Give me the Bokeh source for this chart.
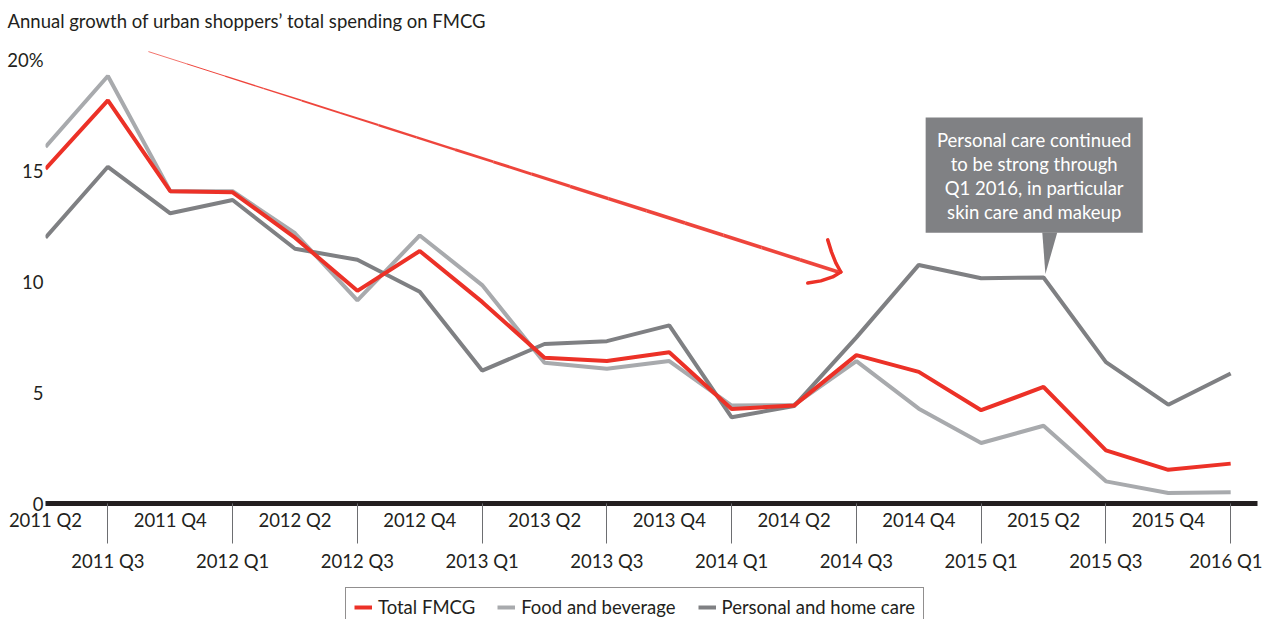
from bokeh.plotting import figure
from bokeh.layouts import column
from bokeh.models import Range1d, LinearAxis, FixedTicker, Legend, LegendItem
from bokeh.embed import file_html
from bokeh.resources import INLINE
from bokeh.core.properties import value

quarters = ["2011 Q2", "2011 Q3", "2011 Q4", "2012 Q1", "2012 Q2", "2012 Q3", "2012 Q4",
            "2013 Q1", "2013 Q2", "2013 Q3", "2013 Q4", "2014 Q1", "2014 Q2", "2014 Q3",
            "2014 Q4", "2015 Q1", "2015 Q2", "2015 Q3", "2015 Q4", "2016 Q1"]
total_fmcg = [15.1, 18.2, 14.1, 14.05, 12.0, 9.6, 11.4, 9.1, 6.58, 6.43, 6.83, 4.27, 4.42,
              6.7, 5.94, 4.21, 5.26, 2.4, 1.52, 1.8]
food_bev = [16.1, 19.3, 14.1, 14.1, 12.2, 9.17, 12.1, 9.86, 6.35, 6.08, 6.43, 4.42, 4.45,
            6.43, 4.28, 2.73, 3.51, 1.0, 0.47, 0.51]
personal_home = [12.0, 15.2, 13.1, 13.7, 11.5, 11.0, 9.56, 6.0, 7.2, 7.33, 8.04, 3.89, 4.4,
                 7.5, 10.77, 10.17, 10.2, 6.38, 4.46, 5.87]
y_ticks = [0, 5, 10, 15, 20]
y_tick_labels = ["0", "5", "10", "15", "20%"]
series_names = ["Total FMCG", "Food and beverage", "Personal and home care"]
callout_lines = ["Personal care continued", "to be strong through",
                 "Q1 2016, in particular", "skin care and makeup"]
title_text = "Annual growth of urban shoppers\u2019 total spending on FMCG"

FONT = "Lato"
FS = "18.5px"
TXT = "#231f20"
RED = "#ec3127"
LGRAY = "#a8aaad"
DGRAY = "#7f8083"
BOX = "#808184"

idx = list(range(len(quarters)))


def strip(height):
    f = figure(width=1262, height=height, output_backend="svg", toolbar_location=None,
               x_range=Range1d(0, 1), y_range=Range1d(0, 1), min_border=0,
               x_axis_location=None, y_axis_location=None)
    f.outline_line_color = None
    f.xgrid.visible = False
    f.ygrid.visible = False
    return f


# title strip
tt = strip(40)
tt.title.text = title_text
tt.title.align = "left"
tt.title.offset = -38
tt.title.standoff = 14
tt.title.text_font = FONT
tt.title.text_font_size = FS
tt.title.text_font_style = "normal"
tt.title.text_color = TXT
tt.line(x=[5, 6], y=[5, 5], line_color=None)

p = figure(width=1262, height=544, output_backend="svg", toolbar_location=None, title=None,
           x_range=Range1d(0.0, 19.43), y_range=Range1d(0, 20.45),
           min_border_left=45, min_border_right=5, min_border_top=10, min_border_bottom=81)
p.outline_line_color = None
p.xgrid.visible = False
p.ygrid.visible = False
p.background_fill_color = "white"
p.border_fill_color = "white"

# y axis
ya = p.yaxis[0]
ya.ticker = FixedTicker(ticks=y_ticks)
ya.major_label_overrides = {t: l for t, l in zip(y_ticks, y_tick_labels)}
ya.axis_line_color = None
ya.major_tick_line_color = None
ya.minor_tick_line_color = None
ya.major_tick_in = 0
ya.major_tick_out = 0
ya.major_label_standoff = 2
ya.major_label_text_font = FONT
ya.major_label_text_font_size = FS
ya.major_label_text_color = TXT

# x axis row 1 (even quarters) with heavy baseline
even = idx[0::2]
odd = idx[1::2]
xa = p.xaxis[0]
xa.ticker = FixedTicker(ticks=even)
xa.major_label_overrides = {i: quarters[i] for i in even}
xa.axis_line_color = "#231f20"
xa.axis_line_width = 5
xa.major_tick_line_color = None
xa.minor_tick_line_color = None
xa.major_tick_out = 0
xa.major_tick_in = 0
xa.major_label_standoff = 5
xa.major_label_text_font = FONT
xa.major_label_text_font_size = FS
xa.major_label_text_color = TXT

# x axis row 2 (odd quarters) with separator ticks
xa2 = LinearAxis(ticker=FixedTicker(ticks=odd),
                 major_label_overrides={i: quarters[i] for i in odd})
xa2.axis_line_color = None
xa2.major_tick_line_color = "#6d6e71"
xa2.major_tick_line_width = 1
xa2.minor_tick_line_color = None
xa2.major_tick_in = 30
xa2.major_tick_out = 10
xa2.major_label_standoff = 6
xa2.major_label_text_font = FONT
xa2.major_label_text_font_size = FS
xa2.major_label_text_color = TXT
p.add_layout(xa2, "below")

# series
r_food = p.line(idx, food_bev, line_color=LGRAY, line_width=4)
r_pers = p.line(idx, personal_home, line_color=DGRAY, line_width=4)
r_tot = p.line(idx, total_fmcg, line_color=RED, line_width=4)

# hand-drawn trend arrow (positions relative to chart coordinates)
x0, y0, x1, y1 = 1.65, 20.4, 12.71, 10.45
n = 18
xs, ys, ws = [], [], []
for k in range(n):
    t0 = k / n
    t1 = (k + 1) / n
    xs.append([x0 + (x1 - x0) * t0, x0 + (x1 - x0) * t1])
    ys.append([y0 + (y1 - y0) * t0, y0 + (y1 - y0) * t1])
    ws.append(0.5 + 3.0 * min(1.0, t1 * 1.5))
p.multi_line(xs, ys, line_color=RED, line_width=ws, line_alpha=0.9)
p.line([12.54, 12.60, 12.67, 12.75], [11.9, 11.36, 10.86, 10.45], line_color=RED,
       line_width=3.5, line_cap="round")
p.line([12.75, 12.62, 12.43, 12.22], [10.45, 10.23, 10.05, 9.95], line_color=RED,
       line_width=3.5, line_cap="round")

# callout box pointing at 2015 Q2 personal care value
tip_x = 16.03
tip_y = personal_home[16] + 0.16
p.quad(left=[14.11], right=[17.59], top=[17.42], bottom=[12.22],
       fill_color=BOX, line_color=None)
p.patch([15.98, 16.22, tip_x], [12.23, 12.23, tip_y], fill_color=BOX, line_color=None)
cx = (14.11 + 17.59) / 2
line_ys = [16.43 - 1.086 * k for k in range(4)]
p.text(x=[cx] * 4, y=line_ys, text=callout_lines, text_align="center",
       text_baseline="middle", text_color="white", text_font=value(FONT),
       text_font_size=FS)

# legend strip below the chart (swatch renderers sit outside the visible range)
lg = strip(35)
lr = [lg.line(x=[5, 6], y=[5, 5], line_color=c, line_width=4) for c in [RED, LGRAY, DGRAY]]
legend = Legend(items=[LegendItem(label=n_, renderers=[r]) for n_, r in zip(series_names, lr)],
                orientation="horizontal", location=(300, -8))
legend.border_line_color = "#231f20"
legend.border_line_width = 1
legend.padding = 8
legend.margin = 0
legend.spacing = 22
legend.glyph_width = 18
legend.glyph_height = 18
legend.label_standoff = 6
legend.label_text_font = FONT
legend.label_text_font_size = FS
legend.label_text_color = TXT
lg.add_layout(legend, "center")

open("out.html", "w").write(file_html(column(tt, p, lg, spacing=0), INLINE))
